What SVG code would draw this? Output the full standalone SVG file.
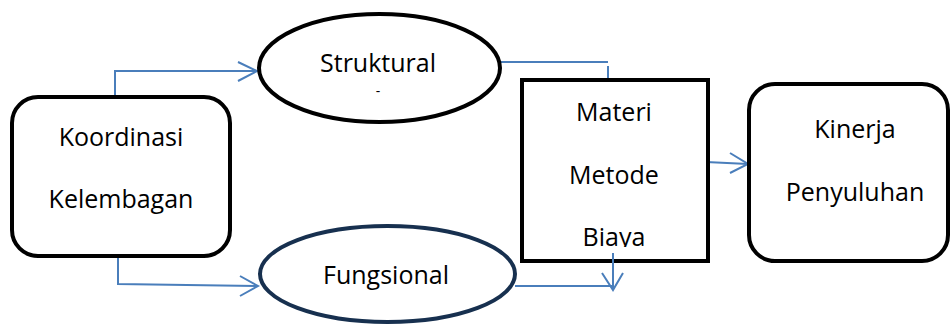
<svg xmlns="http://www.w3.org/2000/svg" width="950" height="334" viewBox="0 0 950 334">
<style>
.n{fill:#fff;stroke:#000;stroke-width:4}
.t{font-family:"Open Sans","Noto Sans",sans-serif;font-size:25px;fill:#000;text-anchor:middle}
.c{fill:none;stroke:#4a7ebb;stroke-width:2}
</style>
<defs>
<clipPath id="clipB"><rect x="522" y="80" width="186" height="167"/></clipPath>
</defs>
<rect width="950" height="334" fill="#fff"/>
<g id="connectors">
<polyline class="c" points="115,97 115,71 257,71"/>
<polyline class="c" points="238,62 257,71 238,81"/>
<polyline class="c" points="118,256 118,284 258,286"/>
<polyline class="c" points="240,276 258,286 240,296"/>
<polyline class="c" points="500,62 608,62"/>
<line class="c" x1="608" y1="66" x2="608" y2="80"/>
<polyline class="c" points="515,286 613,286"/>
<polyline class="c" points="602,273 613,290 623,273"/>
<line class="c" x1="706" y1="162" x2="748" y2="164"/>
<polyline class="c" points="730,153 748,164 730,173"/>
</g>
<g id="koordinasi">
<rect class="n" x="12" y="97" width="218" height="159" rx="26"/>
<text class="t" x="121" y="146">Koordinasi</text>
<text class="t" x="121" y="208">Kelembagan</text>
</g>
<g id="struktural">
<ellipse class="n" cx="379.5" cy="68" rx="120.5" ry="54"/>
<text class="t" x="378" y="72">Struktural</text>
<text class="t" x="378" y="96" style="font-size:14px">-</text>
</g>
<g id="fungsional">
<ellipse class="n" cx="387.5" cy="274" rx="127.5" ry="48" style="stroke:#17304f"/>
<text class="t" x="386" y="284">Fungsional</text>
</g>
<g id="materi">
<rect class="n" x="522" y="80" width="186" height="181"/>
<text class="t" x="614" y="121">Materi</text>
<text class="t" x="614" y="184">Metode</text>
<text class="t" x="614" y="246" clip-path="url(#clipB)">Biaya</text>
</g>
<g id="kinerja">
<rect class="n" x="749" y="84" width="199" height="177" rx="26"/>
<text class="t" x="855" y="138">Kinerja</text>
<text class="t" x="855" y="201">Penyuluhan</text>
</g>
<line class="c" x1="613" y1="253" x2="613" y2="290"/>
</svg>
